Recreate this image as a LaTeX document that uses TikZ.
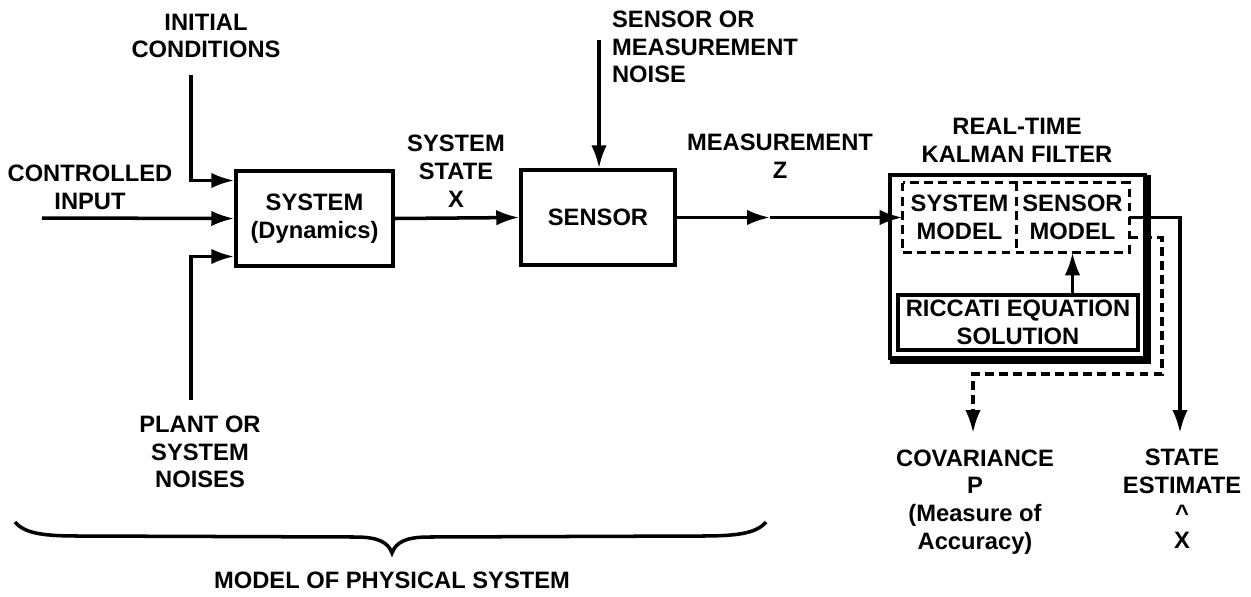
\documentclass[tikz,border=0pt]{standalone}
\usepackage{fontspec}
\setmainfont{Liberation Sans}
\usepackage{tikz}
\usetikzlibrary{arrows.meta,positioning,calc}
\newcommand{\lblfont}{\fontsize{13.5}{15.8}\selectfont\bfseries}
\tikzset{
  blockbox/.style={
    rectangle,
    draw=black,
    line width=2pt,
    minimum width=3.1cm,
    minimum height=1.9cm,
    align=center,
    font=\lblfont,
    inner sep=1pt
  },
  modelbox/.style={
    rectangle,
    minimum width=2.26cm,
    minimum height=1.38cm,
    align=center,
    font=\lblfont,
    inner sep=1pt
  },
  dashline/.style={line width=2pt, dash pattern=on 5pt off 3pt},
  lbl/.style={align=center, font=\lblfont, inner sep=1pt},
  flow/.style={-{Latex[length=4.6mm,width=3.1mm]}, line width=2pt},
  dashflow/.style={flow, dash pattern=on 5pt off 3pt}
}

\begin{document}
\begin{tikzpicture}[x=0.02cm, y=-0.02cm]
\useasboundingbox (0,0) rectangle (1251,596);
% physical system
\node[blockbox, minimum width=3.14cm] (sys) at (314.5,218.5) {SYSTEM\\(Dynamics)};
\node[blockbox, minimum width=3.08cm] (sens) at (598,217.5) {SENSOR};
% kalman filter
\node[blockbox, minimum width=5.1cm, minimum height=3.66cm] (kf) at (1017.5,266.5) {};
\draw[line width=2pt] ($(kf.north east)+(2,2)$) -- ($(kf.south east)+(2,2)$) -- ($(kf.south west)+(2,2)$);
\node[modelbox] (sysmod) at (959.5,217.5) {SYSTEM\\MODEL};
\node[modelbox] (senmod) at (1072.5,217.5) {SENSOR\\MODEL};
\draw[dashline] (sysmod.north west) rectangle (senmod.south east);
\draw[dashline] (sysmod.north east) -- (sysmod.south east);
\node[blockbox, minimum width=4.8cm, minimum height=1.1cm] (ric) at (1018,322.5) {RICCATI EQUATION\\SOLUTION};
% labels
\node[lbl] (ic) at (206,36) {INITIAL\\CONDITIONS};
\node[lbl] (ci) at (90,187) {CONTROLLED\\INPUT};
\node[lbl] (pn) at (200,452) {PLANT OR\\SYSTEM\\NOISES};
\node[lbl] (ss) at (456,171) {SYSTEM\\STATE\\X};
\node[lbl, anchor=west, align=left] (sn) at (610,47) {SENSOR OR\\MEASUREMENT\\NOISE};
\node[lbl] (mz) at (780,156) {MEASUREMENT\\Z};
\node[lbl] (kt) at (1017,140) {REAL-TIME\\KALMAN FILTER};
\node[lbl] (cov) at (975,502) {COVARIANCE\\P\\(Measure of\\Accuracy)};
\node[lbl] (est) at (1182,499) {STATE\\ESTIMATE\\\textasciicircum\\X};
\node[lbl] (mps) at (392,580) {MODEL OF PHYSICAL SYSTEM};
% free ends
\coordinate (icin) at (191,75);
\coordinate (ciin) at (42,218);
\coordinate (pnin) at (191,400);
\coordinate (snin) at (599,40);
\coordinate (mzarr) at (770,217.5);
\coordinate (dcorner) at (1162,374);
\coordinate (covin) at (973,433);
\coordinate (estin) at (1180,433);
% connectors
\draw[flow] (icin) |- ($(sys.west)+(0,-38)$);
\draw[flow] (ciin) -- (sys.west);
\draw[flow] (pnin) |- ($(sys.west)+(0,38)$);
\draw[flow] (sys.east) -- (sens.west);
\draw[flow] (snin) -- (snin |- sens.north);
\draw[flow] (sens.east) -- (mzarr);
\draw[flow] (mzarr) -- (sysmod.west);
\draw[flow] (ric.north -| senmod.south) -- (senmod.south);
\draw[flow] (senmod.east) -| (estin);
\draw[dashflow] ($(senmod.east)+(0,20)$) -| (dcorner) -| (covin);
% brace
\coordinate (brl) at (15,522);
\coordinate (brr) at (766,522);
\coordinate (brtip) at (392,553);
\draw[line width=2pt] (brl) .. controls (25,534) and (45,536) .. (80,536) -- (355,537)
  .. controls (378,537) and (388,542) .. (brtip)
  .. controls (396,542) and (406,537) .. (429,537) -- (700,536)
  .. controls (735,536) and (756,534) .. (brr);
\end{tikzpicture}
\end{document}
